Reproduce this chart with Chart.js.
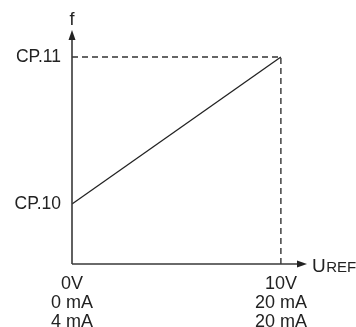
<!DOCTYPE html>
<html><head><meta charset="utf-8">
<script src="https://cdn.jsdelivr.net/npm/chart.js@4.4.0/dist/chart.umd.min.js"></script>
<style>html,body{margin:0;padding:0;background:#fff}#wrap{width:356px;height:327px}</style>
</head><body><div id="wrap"><canvas id="c"></canvas></div>
<script>
const xTickValues = [0, 10];
const xTickLabels = [["0V", "0 mA", "4 mA"], ["10V", "20 mA", "20 mA"]];
const yTickValues = [2, 6.9];
const yTickLabels = ["CP.10", "CP.11"];
const lineX = [0, 10];
const lineY = [2, 6.9];
const guideX = [0, 10, 10];
const guideY = [6.9, 6.9, 0];
const xMax = 11.25, yMax = 7.8;

const FONT = "'Liberation Sans', Arial, sans-serif";
const axisPlugin = {
  id: 'axes',
  afterDatasetsDraw(chart) {
    const {ctx, chartArea: a, scales: {x, y}} = chart;
    const x0 = x.getPixelForValue(0), y0 = y.getPixelForValue(0);
    ctx.save();
    ctx.strokeStyle = '#3a3a3a'; ctx.fillStyle = '#222'; ctx.lineWidth = 1.6;
    ctx.beginPath();
    ctx.moveTo(x0, y0); ctx.lineTo(x0, a.top + 6);
    ctx.moveTo(x0, y0); ctx.lineTo(a.right - 6, y0);
    ctx.stroke();
    ctx.beginPath();
    ctx.moveTo(x0, a.top); ctx.lineTo(x0 - 3.5, a.top + 10); ctx.lineTo(x0 + 3.5, a.top + 10); ctx.closePath(); ctx.fill();
    ctx.beginPath();
    ctx.moveTo(a.right, y0); ctx.lineTo(a.right - 10, y0 - 3.5); ctx.lineTo(a.right - 10, y0 + 3.5); ctx.closePath(); ctx.fill();
    ctx.fillStyle = '#222';
    ctx.textBaseline = 'alphabetic'; ctx.textAlign = 'center';
    ctx.font = '18px ' + FONT;
    ctx.fillText('f', x0, a.top - 5);
    ctx.textAlign = 'left';
    ctx.font = '19px ' + FONT;
    const ux = a.right + 5, uy = y0 + 8;
    ctx.fillText('U', ux, uy);
    const w = ctx.measureText('U').width;
    ctx.font = '15px ' + FONT;
    ctx.fillText('REF', ux + w + 0.5, uy);
    ctx.restore();
  }
};

new Chart(document.getElementById('c'), {
  type: 'scatter',
  data: {
    datasets: [
      { data: lineX.map((v, i) => ({x: v, y: lineY[i]})), showLine: true, borderColor: '#222', borderWidth: 1.3, pointRadius: 0, order: 1 },
      { data: guideX.map((v, i) => ({x: v, y: guideY[i]})), showLine: true, borderColor: '#333', borderWidth: 1.4, borderDash: [6, 4], pointRadius: 0, order: 2 }
    ]
  },
  options: {
    responsive: true, maintainAspectRatio: false, animation: false,
    layout: { padding: { top: 30, right: 49, left: 0, bottom: 0 } },
    plugins: { legend: { display: false }, tooltip: { enabled: false } },
    scales: {
      x: {
        type: 'linear', min: 0, max: xMax,
        grid: { display: false, drawTicks: false }, border: { display: false },
        afterBuildTicks: s => { s.ticks = xTickValues.map(v => ({value: v})); },
        afterFit: s => { s.height = 63; },
        ticks: { padding: 11, color: '#222', font: { family: FONT, size: 18, lineHeight: 1.05 }, maxRotation: 0, autoSkip: false,
          callback: (v) => xTickLabels[xTickValues.indexOf(v)] }
      },
      y: {
        type: 'linear', min: 0, max: yMax,
        grid: { display: false, drawTicks: false }, border: { display: false },
        afterBuildTicks: s => { s.ticks = yTickValues.map(v => ({value: v})); },
        afterFit: s => { s.width = 72; },
        ticks: { padding: 11, color: '#222', font: { family: FONT, size: 17.5 }, autoSkip: false,
          callback: (v) => yTickLabels[yTickValues.indexOf(v)] }
      }
    }
  },
  plugins: [axisPlugin]
});
</script></body></html>
